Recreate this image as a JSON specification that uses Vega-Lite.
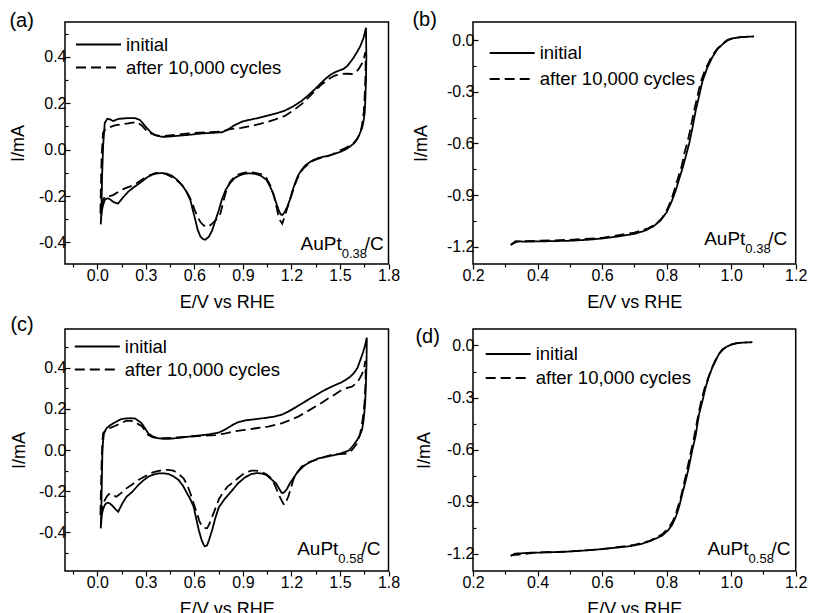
{
  "$schema": "https://vega.github.io/schema/vega-lite/v6.json",
  "background": "white",
  "padding": {"left": 8, "top": 9, "right": 5, "bottom": 5},
  "autosize": {"type": "pad"},
  "config": {
    "font": "Liberation Sans",
    "view": {"stroke": "black", "strokeWidth": 1.5},
    "axis": {"domain": false, "grid": false, "tickColor": "black", "tickWidth": 1.2, "labelColor": "black", "labelFontSize": 16, "labelFont": "Liberation Sans", "titleFont": "Liberation Sans", "titleFontSize": 18, "titleFontWeight": "normal", "titleColor": "black", "labelOverlap": false, "labelFlush": false, "format": ".1f", "labelExpr": "replace(datum.label, '−', '-')"},
    "axisX": {"labelPadding": -2, "titlePadding": 10, "tickSize": 5},
    "axisY": {"labelPadding": 4, "tickSize": -5},
    "legend": {"orient": "none", "title": null, "symbolType": "stroke", "symbolSize": 2025, "symbolStrokeWidth": 2, "symbolStrokeColor": "black", "labelFontSize": 18.5, "labelFont": "Liberation Sans", "labelColor": "black", "labelOffset": 4, "labelLimit": 300},
    "title": {"anchor": "start", "frame": "bounds", "fontSize": 20, "fontWeight": "normal", "font": "Liberation Sans", "color": "black", "baseline": "alphabetic", "offset": 0},
    "text": {"font": "Liberation Sans", "color": "black", "align": "right", "baseline": "alphabetic"}
  },
  "datasets": {
    "a": [
      {"s":"initial","i":1,"E":0.021,"I":-0.322},{"s":"initial","i":2,"E":0.025,"I":-0.26},{"s":"initial","i":3,"E":0.03,"I":-0.1},{"s":"initial","i":4,"E":0.036,"I":0.02},{"s":"initial","i":5,"E":0.046,"I":0.116},{"s":"initial","i":6,"E":0.062,"I":0.133},{"s":"initial","i":7,"E":0.08,"I":0.13},{"s":"initial","i":8,"E":0.098,"I":0.123},{"s":"initial","i":9,"E":0.12,"I":0.13},{"s":"initial","i":10,"E":0.139,"I":0.133},{"s":"initial","i":11,"E":0.19,"I":0.136},{"s":"initial","i":12,"E":0.232,"I":0.136},{"s":"initial","i":13,"E":0.263,"I":0.128},{"s":"initial","i":14,"E":0.285,"I":0.11},{"s":"initial","i":15,"E":0.305,"I":0.094},{"s":"initial","i":16,"E":0.33,"I":0.075},{"s":"initial","i":17,"E":0.357,"I":0.063},{"s":"initial","i":18,"E":0.39,"I":0.056},{"s":"initial","i":19,"E":0.419,"I":0.055},{"s":"initial","i":20,"E":0.47,"I":0.058},{"s":"initial","i":21,"E":0.523,"I":0.061},{"s":"initial","i":22,"E":0.585,"I":0.065},{"s":"initial","i":23,"E":0.647,"I":0.07},{"s":"initial","i":24,"E":0.71,"I":0.072},{"s":"initial","i":25,"E":0.772,"I":0.075},{"s":"initial","i":26,"E":0.81,"I":0.088},{"s":"initial","i":27,"E":0.848,"I":0.105},{"s":"initial","i":28,"E":0.9,"I":0.122},{"s":"initial","i":29,"E":0.952,"I":0.13},{"s":"initial","i":30,"E":1.0,"I":0.137},{"s":"initial","i":31,"E":1.056,"I":0.147},{"s":"initial","i":32,"E":1.11,"I":0.157},{"s":"initial","i":33,"E":1.159,"I":0.168},{"s":"initial","i":34,"E":1.21,"I":0.186},{"s":"initial","i":35,"E":1.263,"I":0.21},{"s":"initial","i":36,"E":1.305,"I":0.235},{"s":"initial","i":37,"E":1.346,"I":0.261},{"s":"initial","i":38,"E":1.38,"I":0.285},{"s":"initial","i":39,"E":1.408,"I":0.304},{"s":"initial","i":40,"E":1.44,"I":0.322},{"s":"initial","i":41,"E":1.471,"I":0.334},{"s":"initial","i":42,"E":1.5,"I":0.342},{"s":"initial","i":43,"E":1.522,"I":0.348},{"s":"initial","i":44,"E":1.545,"I":0.36},{"s":"initial","i":45,"E":1.564,"I":0.377},{"s":"initial","i":46,"E":1.585,"I":0.397},{"s":"initial","i":47,"E":1.605,"I":0.42},{"s":"initial","i":48,"E":1.625,"I":0.445},{"s":"initial","i":49,"E":1.645,"I":0.48},{"s":"initial","i":50,"E":1.661,"I":0.525},
      {"s":"initial","i":51,"E":1.663,"I":0.4},{"s":"initial","i":52,"E":1.661,"I":0.304},{"s":"initial","i":53,"E":1.657,"I":0.22},{"s":"initial","i":54,"E":1.653,"I":0.159},{"s":"initial","i":55,"E":1.645,"I":0.12},{"s":"initial","i":56,"E":1.637,"I":0.094},{"s":"initial","i":57,"E":1.62,"I":0.065},{"s":"initial","i":58,"E":1.605,"I":0.043},{"s":"initial","i":59,"E":1.585,"I":0.026},{"s":"initial","i":60,"E":1.564,"I":0.014},{"s":"initial","i":61,"E":1.54,"I":0.003},{"s":"initial","i":62,"E":1.512,"I":-0.007},{"s":"initial","i":63,"E":1.48,"I":-0.015},{"s":"initial","i":64,"E":1.45,"I":-0.022},{"s":"initial","i":65,"E":1.41,"I":-0.029},{"s":"initial","i":66,"E":1.367,"I":-0.036},{"s":"initial","i":67,"E":1.335,"I":-0.045},{"s":"initial","i":68,"E":1.305,"I":-0.058},{"s":"initial","i":69,"E":1.283,"I":-0.07},{"s":"initial","i":70,"E":1.263,"I":-0.087},{"s":"initial","i":71,"E":1.24,"I":-0.113},{"s":"initial","i":72,"E":1.222,"I":-0.145},{"s":"initial","i":73,"E":1.205,"I":-0.18},{"s":"initial","i":74,"E":1.19,"I":-0.217},{"s":"initial","i":75,"E":1.172,"I":-0.25},{"s":"initial","i":76,"E":1.159,"I":-0.268},{"s":"initial","i":77,"E":1.145,"I":-0.281},{"s":"initial","i":78,"E":1.135,"I":-0.28},{"s":"initial","i":79,"E":1.125,"I":-0.268},{"s":"initial","i":80,"E":1.118,"I":-0.255},{"s":"initial","i":81,"E":1.1,"I":-0.218},{"s":"initial","i":82,"E":1.087,"I":-0.188},{"s":"initial","i":83,"E":1.065,"I":-0.155},{"s":"initial","i":84,"E":1.045,"I":-0.13},{"s":"initial","i":85,"E":1.01,"I":-0.112},{"s":"initial","i":86,"E":0.973,"I":-0.104},{"s":"initial","i":87,"E":0.94,"I":-0.102},{"s":"initial","i":88,"E":0.91,"I":-0.104},{"s":"initial","i":89,"E":0.88,"I":-0.111},{"s":"initial","i":90,"E":0.848,"I":-0.123},{"s":"initial","i":91,"E":0.82,"I":-0.145},{"s":"initial","i":92,"E":0.793,"I":-0.174},{"s":"initial","i":93,"E":0.77,"I":-0.215},{"s":"initial","i":94,"E":0.751,"I":-0.261},{"s":"initial","i":95,"E":0.73,"I":-0.305},{"s":"initial","i":96,"E":0.71,"I":-0.348},{"s":"initial","i":97,"E":0.69,"I":-0.375},{"s":"initial","i":98,"E":0.668,"I":-0.388},{"s":"initial","i":99,"E":0.652,"I":-0.385},{"s":"initial","i":100,"E":0.637,"I":-0.374},{"s":"initial","i":101,"E":0.62,"I":-0.345},{"s":"initial","i":102,"E":0.606,"I":-0.304},{"s":"initial","i":103,"E":0.59,"I":-0.26},{"s":"initial","i":104,"E":0.575,"I":-0.217},{"s":"initial","i":105,"E":0.55,"I":-0.18},{"s":"initial","i":106,"E":0.523,"I":-0.152},{"s":"initial","i":107,"E":0.49,"I":-0.128},{"s":"initial","i":108,"E":0.461,"I":-0.113},{"s":"initial","i":109,"E":0.43,"I":-0.104},{"s":"initial","i":110,"E":0.398,"I":-0.101},{"s":"initial","i":111,"E":0.367,"I":-0.103},{"s":"initial","i":112,"E":0.336,"I":-0.109},{"s":"initial","i":113,"E":0.305,"I":-0.121},{"s":"initial","i":114,"E":0.274,"I":-0.138},{"s":"initial","i":115,"E":0.23,"I":-0.16},{"s":"initial","i":116,"E":0.191,"I":-0.181},{"s":"initial","i":117,"E":0.16,"I":-0.205},{"s":"initial","i":118,"E":0.129,"I":-0.232},{"s":"initial","i":119,"E":0.113,"I":-0.23},{"s":"initial","i":120,"E":0.098,"I":-0.225},{"s":"initial","i":121,"E":0.08,"I":-0.215},{"s":"initial","i":122,"E":0.066,"I":-0.21},{"s":"initial","i":123,"E":0.055,"I":-0.212},{"s":"initial","i":124,"E":0.046,"I":-0.217},{"s":"initial","i":125,"E":0.035,"I":-0.24},{"s":"initial","i":126,"E":0.029,"I":-0.261},{"s":"initial","i":127,"E":0.024,"I":-0.29},{"s":"initial","i":128,"E":0.021,"I":-0.322},
      {"s":"after 10,000 cycles","i":1,"E":0.019,"I":-0.275},{"s":"after 10,000 cycles","i":2,"E":0.022,"I":-0.15},{"s":"after 10,000 cycles","i":3,"E":0.027,"I":-0.02},{"s":"after 10,000 cycles","i":4,"E":0.035,"I":0.072},{"s":"after 10,000 cycles","i":5,"E":0.05,"I":0.088},{"s":"after 10,000 cycles","i":6,"E":0.066,"I":0.094},{"s":"after 10,000 cycles","i":7,"E":0.108,"I":0.104},{"s":"after 10,000 cycles","i":8,"E":0.15,"I":0.109},{"s":"after 10,000 cycles","i":9,"E":0.191,"I":0.113},{"s":"after 10,000 cycles","i":10,"E":0.243,"I":0.119},{"s":"after 10,000 cycles","i":11,"E":0.274,"I":0.104},{"s":"after 10,000 cycles","i":12,"E":0.295,"I":0.088},{"s":"after 10,000 cycles","i":13,"E":0.315,"I":0.075},{"s":"after 10,000 cycles","i":14,"E":0.357,"I":0.062},{"s":"after 10,000 cycles","i":15,"E":0.398,"I":0.058},{"s":"after 10,000 cycles","i":16,"E":0.48,"I":0.064},{"s":"after 10,000 cycles","i":17,"E":0.564,"I":0.07},{"s":"after 10,000 cycles","i":18,"E":0.67,"I":0.075},{"s":"after 10,000 cycles","i":19,"E":0.772,"I":0.078},{"s":"after 10,000 cycles","i":20,"E":0.82,"I":0.088},{"s":"after 10,000 cycles","i":21,"E":0.89,"I":0.094},{"s":"after 10,000 cycles","i":22,"E":0.96,"I":0.103},{"s":"after 10,000 cycles","i":23,"E":1.035,"I":0.116},{"s":"after 10,000 cycles","i":24,"E":1.1,"I":0.13},{"s":"after 10,000 cycles","i":25,"E":1.159,"I":0.145},{"s":"after 10,000 cycles","i":26,"E":1.21,"I":0.168},{"s":"after 10,000 cycles","i":27,"E":1.263,"I":0.196},{"s":"after 10,000 cycles","i":28,"E":1.305,"I":0.224},{"s":"after 10,000 cycles","i":29,"E":1.346,"I":0.254},{"s":"after 10,000 cycles","i":30,"E":1.39,"I":0.283},{"s":"after 10,000 cycles","i":31,"E":1.429,"I":0.304},{"s":"after 10,000 cycles","i":32,"E":1.465,"I":0.318},{"s":"after 10,000 cycles","i":33,"E":1.502,"I":0.326},{"s":"after 10,000 cycles","i":34,"E":1.54,"I":0.327},{"s":"after 10,000 cycles","i":35,"E":1.574,"I":0.326},{"s":"after 10,000 cycles","i":36,"E":1.6,"I":0.335},{"s":"after 10,000 cycles","i":37,"E":1.616,"I":0.348},{"s":"after 10,000 cycles","i":38,"E":1.635,"I":0.37},{"s":"after 10,000 cycles","i":39,"E":1.647,"I":0.391},{"s":"after 10,000 cycles","i":40,"E":1.657,"I":0.42},
      {"s":"after 10,000 cycles","i":41,"E":1.659,"I":0.36},{"s":"after 10,000 cycles","i":42,"E":1.657,"I":0.304},{"s":"after 10,000 cycles","i":43,"E":1.652,"I":0.22},{"s":"after 10,000 cycles","i":44,"E":1.647,"I":0.159},{"s":"after 10,000 cycles","i":45,"E":1.637,"I":0.11},{"s":"after 10,000 cycles","i":46,"E":1.626,"I":0.072},{"s":"after 10,000 cycles","i":47,"E":1.605,"I":0.045},{"s":"after 10,000 cycles","i":48,"E":1.585,"I":0.029},{"s":"after 10,000 cycles","i":49,"E":1.56,"I":0.017},{"s":"after 10,000 cycles","i":50,"E":1.533,"I":0.007},{"s":"after 10,000 cycles","i":51,"E":1.49,"I":-0.008},{"s":"after 10,000 cycles","i":52,"E":1.45,"I":-0.022},{"s":"after 10,000 cycles","i":53,"E":1.41,"I":-0.031},{"s":"after 10,000 cycles","i":54,"E":1.367,"I":-0.039},{"s":"after 10,000 cycles","i":55,"E":1.335,"I":-0.048},{"s":"after 10,000 cycles","i":56,"E":1.305,"I":-0.061},{"s":"after 10,000 cycles","i":57,"E":1.278,"I":-0.078},{"s":"after 10,000 cycles","i":58,"E":1.253,"I":-0.101},{"s":"after 10,000 cycles","i":59,"E":1.23,"I":-0.135},{"s":"after 10,000 cycles","i":60,"E":1.211,"I":-0.174},{"s":"after 10,000 cycles","i":61,"E":1.19,"I":-0.22},{"s":"after 10,000 cycles","i":62,"E":1.17,"I":-0.261},{"s":"after 10,000 cycles","i":63,"E":1.155,"I":-0.295},{"s":"after 10,000 cycles","i":64,"E":1.143,"I":-0.319},{"s":"after 10,000 cycles","i":65,"E":1.13,"I":-0.305},{"s":"after 10,000 cycles","i":66,"E":1.118,"I":-0.28},{"s":"after 10,000 cycles","i":67,"E":1.105,"I":-0.24},{"s":"after 10,000 cycles","i":68,"E":1.093,"I":-0.203},{"s":"after 10,000 cycles","i":69,"E":1.07,"I":-0.155},{"s":"after 10,000 cycles","i":70,"E":1.045,"I":-0.123},{"s":"after 10,000 cycles","i":71,"E":1.015,"I":-0.106},{"s":"after 10,000 cycles","i":72,"E":0.983,"I":-0.101},{"s":"after 10,000 cycles","i":73,"E":0.945,"I":-0.097},{"s":"after 10,000 cycles","i":74,"E":0.91,"I":-0.099},{"s":"after 10,000 cycles","i":75,"E":0.878,"I":-0.105},{"s":"after 10,000 cycles","i":76,"E":0.848,"I":-0.116},{"s":"after 10,000 cycles","i":77,"E":0.82,"I":-0.14},{"s":"after 10,000 cycles","i":78,"E":0.8,"I":-0.17},{"s":"after 10,000 cycles","i":79,"E":0.78,"I":-0.22},{"s":"after 10,000 cycles","i":80,"E":0.761,"I":-0.275},{"s":"after 10,000 cycles","i":81,"E":0.735,"I":-0.302},{"s":"after 10,000 cycles","i":82,"E":0.71,"I":-0.319},{"s":"after 10,000 cycles","i":83,"E":0.69,"I":-0.33},{"s":"after 10,000 cycles","i":84,"E":0.672,"I":-0.333},{"s":"after 10,000 cycles","i":85,"E":0.655,"I":-0.325},{"s":"after 10,000 cycles","i":86,"E":0.637,"I":-0.312},{"s":"after 10,000 cycles","i":87,"E":0.62,"I":-0.29},{"s":"after 10,000 cycles","i":88,"E":0.602,"I":-0.261},{"s":"after 10,000 cycles","i":89,"E":0.585,"I":-0.228},{"s":"after 10,000 cycles","i":90,"E":0.564,"I":-0.196},{"s":"after 10,000 cycles","i":91,"E":0.535,"I":-0.163},{"s":"after 10,000 cycles","i":92,"E":0.502,"I":-0.138},{"s":"after 10,000 cycles","i":93,"E":0.46,"I":-0.118},{"s":"after 10,000 cycles","i":94,"E":0.419,"I":-0.104},{"s":"after 10,000 cycles","i":95,"E":0.39,"I":-0.1},{"s":"after 10,000 cycles","i":96,"E":0.357,"I":-0.101},{"s":"after 10,000 cycles","i":97,"E":0.315,"I":-0.113},{"s":"after 10,000 cycles","i":98,"E":0.274,"I":-0.13},{"s":"after 10,000 cycles","i":99,"E":0.22,"I":-0.155},{"s":"after 10,000 cycles","i":100,"E":0.17,"I":-0.167},{"s":"after 10,000 cycles","i":101,"E":0.13,"I":-0.182},{"s":"after 10,000 cycles","i":102,"E":0.098,"I":-0.196},{"s":"after 10,000 cycles","i":103,"E":0.075,"I":-0.2},{"s":"after 10,000 cycles","i":104,"E":0.056,"I":-0.2},{"s":"after 10,000 cycles","i":105,"E":0.045,"I":-0.205},{"s":"after 10,000 cycles","i":106,"E":0.035,"I":-0.217},{"s":"after 10,000 cycles","i":107,"E":0.026,"I":-0.245},{"s":"after 10,000 cycles","i":108,"E":0.019,"I":-0.275}
    ],
    "c": [
      {"s":"initial","i":1,"E":0.021,"I":-0.382},{"s":"initial","i":2,"E":0.023,"I":-0.33},{"s":"initial","i":3,"E":0.025,"I":-0.276},{"s":"initial","i":4,"E":0.028,"I":-0.15},{"s":"initial","i":5,"E":0.031,"I":-0.016},{"s":"initial","i":6,"E":0.035,"I":0.04},{"s":"initial","i":7,"E":0.041,"I":0.081},{"s":"initial","i":8,"E":0.056,"I":0.106},{"s":"initial","i":9,"E":0.075,"I":0.118},{"s":"initial","i":10,"E":0.098,"I":0.13},{"s":"initial","i":11,"E":0.125,"I":0.142},{"s":"initial","i":12,"E":0.149,"I":0.151},{"s":"initial","i":13,"E":0.18,"I":0.154},{"s":"initial","i":14,"E":0.205,"I":0.155},{"s":"initial","i":15,"E":0.232,"I":0.154},{"s":"initial","i":16,"E":0.255,"I":0.142},{"s":"initial","i":17,"E":0.274,"I":0.13},{"s":"initial","i":18,"E":0.295,"I":0.105},{"s":"initial","i":19,"E":0.315,"I":0.081},{"s":"initial","i":20,"E":0.345,"I":0.065},{"s":"initial","i":21,"E":0.378,"I":0.057},{"s":"initial","i":22,"E":0.41,"I":0.054},{"s":"initial","i":23,"E":0.44,"I":0.054},{"s":"initial","i":24,"E":0.5,"I":0.059},{"s":"initial","i":25,"E":0.564,"I":0.065},{"s":"initial","i":26,"E":0.63,"I":0.071},{"s":"initial","i":27,"E":0.689,"I":0.076},{"s":"initial","i":28,"E":0.751,"I":0.085},{"s":"initial","i":29,"E":0.786,"I":0.098},{"s":"initial","i":30,"E":0.813,"I":0.111},{"s":"initial","i":31,"E":0.84,"I":0.124},{"s":"initial","i":32,"E":0.869,"I":0.135},{"s":"initial","i":33,"E":0.92,"I":0.145},{"s":"initial","i":34,"E":0.973,"I":0.15},{"s":"initial","i":35,"E":1.035,"I":0.156},{"s":"initial","i":36,"E":1.097,"I":0.163},{"s":"initial","i":37,"E":1.14,"I":0.172},{"s":"initial","i":38,"E":1.18,"I":0.187},{"s":"initial","i":39,"E":1.23,"I":0.21},{"s":"initial","i":40,"E":1.284,"I":0.236},{"s":"initial","i":41,"E":1.335,"I":0.26},{"s":"initial","i":42,"E":1.388,"I":0.285},{"s":"initial","i":43,"E":1.43,"I":0.302},{"s":"initial","i":44,"E":1.471,"I":0.317},{"s":"initial","i":45,"E":1.505,"I":0.328},{"s":"initial","i":46,"E":1.533,"I":0.341},{"s":"initial","i":47,"E":1.56,"I":0.355},{"s":"initial","i":48,"E":1.585,"I":0.374},{"s":"initial","i":49,"E":1.608,"I":0.4},{"s":"initial","i":50,"E":1.626,"I":0.439},{"s":"initial","i":51,"E":1.642,"I":0.475},{"s":"initial","i":52,"E":1.653,"I":0.504},{"s":"initial","i":53,"E":1.666,"I":0.548},
      {"s":"initial","i":54,"E":1.664,"I":0.42},{"s":"initial","i":55,"E":1.66,"I":0.309},{"s":"initial","i":56,"E":1.655,"I":0.22},{"s":"initial","i":57,"E":1.646,"I":0.146},{"s":"initial","i":58,"E":1.637,"I":0.1},{"s":"initial","i":59,"E":1.622,"I":0.07},{"s":"initial","i":60,"E":1.606,"I":0.049},{"s":"initial","i":61,"E":1.58,"I":0.02},{"s":"initial","i":62,"E":1.554,"I":-0.003},{"s":"initial","i":63,"E":1.51,"I":-0.015},{"s":"initial","i":64,"E":1.471,"I":-0.024},{"s":"initial","i":65,"E":1.42,"I":-0.032},{"s":"initial","i":66,"E":1.367,"I":-0.041},{"s":"initial","i":67,"E":1.325,"I":-0.055},{"s":"initial","i":68,"E":1.284,"I":-0.073},{"s":"initial","i":69,"E":1.255,"I":-0.094},{"s":"initial","i":70,"E":1.232,"I":-0.114},{"s":"initial","i":71,"E":1.21,"I":-0.14},{"s":"initial","i":72,"E":1.19,"I":-0.163},{"s":"initial","i":73,"E":1.172,"I":-0.19},{"s":"initial","i":74,"E":1.159,"I":-0.203},{"s":"initial","i":75,"E":1.148,"I":-0.21},{"s":"initial","i":76,"E":1.139,"I":-0.208},{"s":"initial","i":77,"E":1.125,"I":-0.19},{"s":"initial","i":78,"E":1.105,"I":-0.163},{"s":"initial","i":79,"E":1.076,"I":-0.143},{"s":"initial","i":80,"E":1.045,"I":-0.122},{"s":"initial","i":81,"E":1.014,"I":-0.114},{"s":"initial","i":82,"E":0.985,"I":-0.113},{"s":"initial","i":83,"E":0.952,"I":-0.117},{"s":"initial","i":84,"E":0.91,"I":-0.135},{"s":"initial","i":85,"E":0.869,"I":-0.163},{"s":"initial","i":86,"E":0.83,"I":-0.2},{"s":"initial","i":87,"E":0.786,"I":-0.24},{"s":"initial","i":88,"E":0.751,"I":-0.28},{"s":"initial","i":89,"E":0.73,"I":-0.33},{"s":"initial","i":90,"E":0.71,"I":-0.39},{"s":"initial","i":91,"E":0.69,"I":-0.44},{"s":"initial","i":92,"E":0.678,"I":-0.465},{"s":"initial","i":93,"E":0.665,"I":-0.47},{"s":"initial","i":94,"E":0.658,"I":-0.463},{"s":"initial","i":95,"E":0.645,"I":-0.44},{"s":"initial","i":96,"E":0.627,"I":-0.39},{"s":"initial","i":97,"E":0.61,"I":-0.33},{"s":"initial","i":98,"E":0.595,"I":-0.276},{"s":"initial","i":99,"E":0.575,"I":-0.24},{"s":"initial","i":100,"E":0.554,"I":-0.211},{"s":"initial","i":101,"E":0.53,"I":-0.175},{"s":"initial","i":102,"E":0.502,"I":-0.146},{"s":"initial","i":103,"E":0.47,"I":-0.128},{"s":"initial","i":104,"E":0.44,"I":-0.117},{"s":"initial","i":105,"E":0.41,"I":-0.114},{"s":"initial","i":106,"E":0.378,"I":-0.114},{"s":"initial","i":107,"E":0.345,"I":-0.12},{"s":"initial","i":108,"E":0.315,"I":-0.13},{"s":"initial","i":109,"E":0.285,"I":-0.148},{"s":"initial","i":110,"E":0.253,"I":-0.171},{"s":"initial","i":111,"E":0.215,"I":-0.205},{"s":"initial","i":112,"E":0.18,"I":-0.228},{"s":"initial","i":113,"E":0.155,"I":-0.26},{"s":"initial","i":114,"E":0.129,"I":-0.301},{"s":"initial","i":115,"E":0.113,"I":-0.29},{"s":"initial","i":116,"E":0.098,"I":-0.276},{"s":"initial","i":117,"E":0.08,"I":-0.262},{"s":"initial","i":118,"E":0.066,"I":-0.257},{"s":"initial","i":119,"E":0.055,"I":-0.26},{"s":"initial","i":120,"E":0.046,"I":-0.268},{"s":"initial","i":121,"E":0.035,"I":-0.29},{"s":"initial","i":122,"E":0.029,"I":-0.309},{"s":"initial","i":123,"E":0.024,"I":-0.35},{"s":"initial","i":124,"E":0.021,"I":-0.382},
      {"s":"after 10,000 cycles","i":1,"E":0.019,"I":-0.317},{"s":"after 10,000 cycles","i":2,"E":0.022,"I":-0.2},{"s":"after 10,000 cycles","i":3,"E":0.025,"I":-0.098},{"s":"after 10,000 cycles","i":4,"E":0.03,"I":0.02},{"s":"after 10,000 cycles","i":5,"E":0.035,"I":0.081},{"s":"after 10,000 cycles","i":6,"E":0.056,"I":0.1},{"s":"after 10,000 cycles","i":7,"E":0.08,"I":0.108},{"s":"after 10,000 cycles","i":8,"E":0.108,"I":0.117},{"s":"after 10,000 cycles","i":9,"E":0.145,"I":0.13},{"s":"after 10,000 cycles","i":10,"E":0.18,"I":0.143},{"s":"after 10,000 cycles","i":11,"E":0.21,"I":0.142},{"s":"after 10,000 cycles","i":12,"E":0.232,"I":0.138},{"s":"after 10,000 cycles","i":13,"E":0.255,"I":0.125},{"s":"after 10,000 cycles","i":14,"E":0.274,"I":0.117},{"s":"after 10,000 cycles","i":15,"E":0.295,"I":0.095},{"s":"after 10,000 cycles","i":16,"E":0.315,"I":0.073},{"s":"after 10,000 cycles","i":17,"E":0.345,"I":0.062},{"s":"after 10,000 cycles","i":18,"E":0.378,"I":0.057},{"s":"after 10,000 cycles","i":19,"E":0.47,"I":0.06},{"s":"after 10,000 cycles","i":20,"E":0.564,"I":0.065},{"s":"after 10,000 cycles","i":21,"E":0.65,"I":0.069},{"s":"after 10,000 cycles","i":22,"E":0.73,"I":0.073},{"s":"after 10,000 cycles","i":23,"E":0.793,"I":0.081},{"s":"after 10,000 cycles","i":24,"E":0.855,"I":0.092},{"s":"after 10,000 cycles","i":25,"E":0.91,"I":0.098},{"s":"after 10,000 cycles","i":26,"E":0.98,"I":0.106},{"s":"after 10,000 cycles","i":27,"E":1.056,"I":0.114},{"s":"after 10,000 cycles","i":28,"E":1.139,"I":0.13},{"s":"after 10,000 cycles","i":29,"E":1.19,"I":0.145},{"s":"after 10,000 cycles","i":30,"E":1.242,"I":0.163},{"s":"after 10,000 cycles","i":31,"E":1.295,"I":0.187},{"s":"after 10,000 cycles","i":32,"E":1.346,"I":0.211},{"s":"after 10,000 cycles","i":33,"E":1.39,"I":0.232},{"s":"after 10,000 cycles","i":34,"E":1.429,"I":0.252},{"s":"after 10,000 cycles","i":35,"E":1.47,"I":0.272},{"s":"after 10,000 cycles","i":36,"E":1.512,"I":0.293},{"s":"after 10,000 cycles","i":37,"E":1.545,"I":0.303},{"s":"after 10,000 cycles","i":38,"E":1.574,"I":0.309},{"s":"after 10,000 cycles","i":39,"E":1.6,"I":0.325},{"s":"after 10,000 cycles","i":40,"E":1.616,"I":0.341},{"s":"after 10,000 cycles","i":41,"E":1.633,"I":0.365},{"s":"after 10,000 cycles","i":42,"E":1.647,"I":0.39},{"s":"after 10,000 cycles","i":43,"E":1.657,"I":0.435},
      {"s":"after 10,000 cycles","i":44,"E":1.659,"I":0.36},{"s":"after 10,000 cycles","i":45,"E":1.657,"I":0.309},{"s":"after 10,000 cycles","i":46,"E":1.652,"I":0.23},{"s":"after 10,000 cycles","i":47,"E":1.64,"I":0.146},{"s":"after 10,000 cycles","i":48,"E":1.625,"I":0.08},{"s":"after 10,000 cycles","i":49,"E":1.606,"I":0.033},{"s":"after 10,000 cycles","i":50,"E":1.58,"I":0.005},{"s":"after 10,000 cycles","i":51,"E":1.554,"I":-0.016},{"s":"after 10,000 cycles","i":52,"E":1.5,"I":-0.02},{"s":"after 10,000 cycles","i":53,"E":1.45,"I":-0.024},{"s":"after 10,000 cycles","i":54,"E":1.4,"I":-0.035},{"s":"after 10,000 cycles","i":55,"E":1.346,"I":-0.049},{"s":"after 10,000 cycles","i":56,"E":1.3,"I":-0.062},{"s":"after 10,000 cycles","i":57,"E":1.263,"I":-0.081},{"s":"after 10,000 cycles","i":58,"E":1.235,"I":-0.11},{"s":"after 10,000 cycles","i":59,"E":1.211,"I":-0.146},{"s":"after 10,000 cycles","i":60,"E":1.195,"I":-0.19},{"s":"after 10,000 cycles","i":61,"E":1.18,"I":-0.228},{"s":"after 10,000 cycles","i":62,"E":1.165,"I":-0.255},{"s":"after 10,000 cycles","i":63,"E":1.155,"I":-0.268},{"s":"after 10,000 cycles","i":64,"E":1.145,"I":-0.255},{"s":"after 10,000 cycles","i":65,"E":1.132,"I":-0.235},{"s":"after 10,000 cycles","i":66,"E":1.118,"I":-0.211},{"s":"after 10,000 cycles","i":67,"E":1.1,"I":-0.175},{"s":"after 10,000 cycles","i":68,"E":1.076,"I":-0.138},{"s":"after 10,000 cycles","i":69,"E":1.045,"I":-0.118},{"s":"after 10,000 cycles","i":70,"E":1.014,"I":-0.106},{"s":"after 10,000 cycles","i":71,"E":0.983,"I":-0.101},{"s":"after 10,000 cycles","i":72,"E":0.952,"I":-0.101},{"s":"after 10,000 cycles","i":73,"E":0.91,"I":-0.112},{"s":"after 10,000 cycles","i":74,"E":0.869,"I":-0.138},{"s":"after 10,000 cycles","i":75,"E":0.835,"I":-0.16},{"s":"after 10,000 cycles","i":76,"E":0.803,"I":-0.18},{"s":"after 10,000 cycles","i":77,"E":0.775,"I":-0.21},{"s":"after 10,000 cycles","i":78,"E":0.751,"I":-0.24},{"s":"after 10,000 cycles","i":79,"E":0.73,"I":-0.285},{"s":"after 10,000 cycles","i":80,"E":0.71,"I":-0.325},{"s":"after 10,000 cycles","i":81,"E":0.69,"I":-0.365},{"s":"after 10,000 cycles","i":82,"E":0.678,"I":-0.382},{"s":"after 10,000 cycles","i":83,"E":0.662,"I":-0.38},{"s":"after 10,000 cycles","i":84,"E":0.647,"I":-0.374},{"s":"after 10,000 cycles","i":85,"E":0.63,"I":-0.345},{"s":"after 10,000 cycles","i":86,"E":0.616,"I":-0.309},{"s":"after 10,000 cycles","i":87,"E":0.595,"I":-0.26},{"s":"after 10,000 cycles","i":88,"E":0.575,"I":-0.211},{"s":"after 10,000 cycles","i":89,"E":0.555,"I":-0.17},{"s":"after 10,000 cycles","i":90,"E":0.533,"I":-0.138},{"s":"after 10,000 cycles","i":91,"E":0.5,"I":-0.115},{"s":"after 10,000 cycles","i":92,"E":0.471,"I":-0.101},{"s":"after 10,000 cycles","i":93,"E":0.435,"I":-0.097},{"s":"after 10,000 cycles","i":94,"E":0.398,"I":-0.098},{"s":"after 10,000 cycles","i":95,"E":0.36,"I":-0.105},{"s":"after 10,000 cycles","i":96,"E":0.326,"I":-0.114},{"s":"after 10,000 cycles","i":97,"E":0.29,"I":-0.13},{"s":"after 10,000 cycles","i":98,"E":0.253,"I":-0.146},{"s":"after 10,000 cycles","i":99,"E":0.215,"I":-0.168},{"s":"after 10,000 cycles","i":100,"E":0.18,"I":-0.187},{"s":"after 10,000 cycles","i":101,"E":0.15,"I":-0.208},{"s":"after 10,000 cycles","i":102,"E":0.118,"I":-0.228},{"s":"after 10,000 cycles","i":103,"E":0.1,"I":-0.222},{"s":"after 10,000 cycles","i":104,"E":0.077,"I":-0.211},{"s":"after 10,000 cycles","i":105,"E":0.06,"I":-0.225},{"s":"after 10,000 cycles","i":106,"E":0.046,"I":-0.244},{"s":"after 10,000 cycles","i":107,"E":0.035,"I":-0.27},{"s":"after 10,000 cycles","i":108,"E":0.025,"I":-0.309},{"s":"after 10,000 cycles","i":109,"E":0.019,"I":-0.317}
    ],
    "b": [
      {"s":"initial","i":1,"E":0.317,"I":-1.188},{"s":"initial","i":2,"E":0.332,"I":-1.168},{"s":"initial","i":3,"E":0.36,"I":-1.17},{"s":"initial","i":4,"E":0.4,"I":-1.169},{"s":"initial","i":5,"E":0.45,"I":-1.167},{"s":"initial","i":6,"E":0.5,"I":-1.165},{"s":"initial","i":7,"E":0.55,"I":-1.16},{"s":"initial","i":8,"E":0.6,"I":-1.152},{"s":"initial","i":9,"E":0.65,"I":-1.14},{"s":"initial","i":10,"E":0.7,"I":-1.125},{"s":"initial","i":11,"E":0.735,"I":-1.105},{"s":"initial","i":12,"E":0.76,"I":-1.08},{"s":"initial","i":13,"E":0.78,"I":-1.05},{"s":"initial","i":14,"E":0.8,"I":-1.0},{"s":"initial","i":15,"E":0.815,"I":-0.94},{"s":"initial","i":16,"E":0.828,"I":-0.875},{"s":"initial","i":17,"E":0.84,"I":-0.8},{"s":"initial","i":18,"E":0.85,"I":-0.74},{"s":"initial","i":19,"E":0.86,"I":-0.67},{"s":"initial","i":20,"E":0.87,"I":-0.6},{"s":"initial","i":21,"E":0.88,"I":-0.51},{"s":"initial","i":22,"E":0.89,"I":-0.41},{"s":"initial","i":23,"E":0.9,"I":-0.33},{"s":"initial","i":24,"E":0.911,"I":-0.24},{"s":"initial","i":25,"E":0.925,"I":-0.165},{"s":"initial","i":26,"E":0.942,"I":-0.098},{"s":"initial","i":27,"E":0.958,"I":-0.052},{"s":"initial","i":28,"E":0.973,"I":-0.025},{"s":"initial","i":29,"E":0.99,"I":0.0},{"s":"initial","i":30,"E":1.004,"I":0.01},{"s":"initial","i":31,"E":1.025,"I":0.016},{"s":"initial","i":32,"E":1.045,"I":0.019},{"s":"initial","i":33,"E":1.071,"I":0.021},
      {"s":"after 10,000 cycles","i":1,"E":0.317,"I":-1.19},{"s":"after 10,000 cycles","i":2,"E":0.335,"I":-1.17},{"s":"after 10,000 cycles","i":3,"E":0.4,"I":-1.165},{"s":"after 10,000 cycles","i":4,"E":0.5,"I":-1.16},{"s":"after 10,000 cycles","i":5,"E":0.6,"I":-1.148},{"s":"after 10,000 cycles","i":6,"E":0.7,"I":-1.118},{"s":"after 10,000 cycles","i":7,"E":0.74,"I":-1.095},{"s":"after 10,000 cycles","i":8,"E":0.765,"I":-1.07},{"s":"after 10,000 cycles","i":9,"E":0.785,"I":-1.035},{"s":"after 10,000 cycles","i":10,"E":0.8,"I":-0.99},{"s":"after 10,000 cycles","i":11,"E":0.815,"I":-0.925},{"s":"after 10,000 cycles","i":12,"E":0.825,"I":-0.865},{"s":"after 10,000 cycles","i":13,"E":0.837,"I":-0.79},{"s":"after 10,000 cycles","i":14,"E":0.847,"I":-0.73},{"s":"after 10,000 cycles","i":15,"E":0.856,"I":-0.65},{"s":"after 10,000 cycles","i":16,"E":0.865,"I":-0.59},{"s":"after 10,000 cycles","i":17,"E":0.875,"I":-0.505},{"s":"after 10,000 cycles","i":18,"E":0.885,"I":-0.41},{"s":"after 10,000 cycles","i":19,"E":0.895,"I":-0.33},{"s":"after 10,000 cycles","i":20,"E":0.906,"I":-0.24},{"s":"after 10,000 cycles","i":21,"E":0.92,"I":-0.17},{"s":"after 10,000 cycles","i":22,"E":0.938,"I":-0.1},{"s":"after 10,000 cycles","i":23,"E":0.955,"I":-0.055},{"s":"after 10,000 cycles","i":24,"E":0.97,"I":-0.025},{"s":"after 10,000 cycles","i":25,"E":0.988,"I":0.0},{"s":"after 10,000 cycles","i":26,"E":1.004,"I":0.01},{"s":"after 10,000 cycles","i":27,"E":1.03,"I":0.017},{"s":"after 10,000 cycles","i":28,"E":1.06,"I":0.02}
    ],
    "d": [
      {"s":"initial","i":1,"E":0.317,"I":-1.214},{"s":"initial","i":2,"E":0.33,"I":-1.2},{"s":"initial","i":3,"E":0.374,"I":-1.195},{"s":"initial","i":4,"E":0.42,"I":-1.193},{"s":"initial","i":5,"E":0.477,"I":-1.19},{"s":"initial","i":6,"E":0.53,"I":-1.184},{"s":"initial","i":7,"E":0.58,"I":-1.177},{"s":"initial","i":8,"E":0.63,"I":-1.168},{"s":"initial","i":9,"E":0.683,"I":-1.158},{"s":"initial","i":10,"E":0.72,"I":-1.145},{"s":"initial","i":11,"E":0.745,"I":-1.13},{"s":"initial","i":12,"E":0.77,"I":-1.11},{"s":"initial","i":13,"E":0.787,"I":-1.095},{"s":"initial","i":14,"E":0.805,"I":-1.065},{"s":"initial","i":15,"E":0.818,"I":-1.031},{"s":"initial","i":16,"E":0.83,"I":-0.98},{"s":"initial","i":17,"E":0.838,"I":-0.934},{"s":"initial","i":18,"E":0.848,"I":-0.86},{"s":"initial","i":19,"E":0.859,"I":-0.78},{"s":"initial","i":20,"E":0.869,"I":-0.7},{"s":"initial","i":21,"E":0.88,"I":-0.6},{"s":"initial","i":22,"E":0.89,"I":-0.52},{"s":"initial","i":23,"E":0.9,"I":-0.4},{"s":"initial","i":24,"E":0.911,"I":-0.32},{"s":"initial","i":25,"E":0.921,"I":-0.241},{"s":"initial","i":26,"E":0.931,"I":-0.18},{"s":"initial","i":27,"E":0.942,"I":-0.125},{"s":"initial","i":28,"E":0.952,"I":-0.087},{"s":"initial","i":29,"E":0.962,"I":-0.05},{"s":"initial","i":30,"E":0.972,"I":-0.025},{"s":"initial","i":31,"E":0.983,"I":-0.01},{"s":"initial","i":32,"E":1.0,"I":0.005},{"s":"initial","i":33,"E":1.014,"I":0.013},{"s":"initial","i":34,"E":1.04,"I":0.017},{"s":"initial","i":35,"E":1.066,"I":0.019},
      {"s":"after 10,000 cycles","i":1,"E":0.317,"I":-1.21},{"s":"after 10,000 cycles","i":2,"E":0.4,"I":-1.193},{"s":"after 10,000 cycles","i":3,"E":0.5,"I":-1.187},{"s":"after 10,000 cycles","i":4,"E":0.6,"I":-1.174},{"s":"after 10,000 cycles","i":5,"E":0.7,"I":-1.15},{"s":"after 10,000 cycles","i":6,"E":0.75,"I":-1.125},{"s":"after 10,000 cycles","i":7,"E":0.785,"I":-1.09},{"s":"after 10,000 cycles","i":8,"E":0.805,"I":-1.055},{"s":"after 10,000 cycles","i":9,"E":0.82,"I":-1.01},{"s":"after 10,000 cycles","i":10,"E":0.83,"I":-0.96},{"s":"after 10,000 cycles","i":11,"E":0.842,"I":-0.89},{"s":"after 10,000 cycles","i":12,"E":0.852,"I":-0.81},{"s":"after 10,000 cycles","i":13,"E":0.862,"I":-0.73},{"s":"after 10,000 cycles","i":14,"E":0.873,"I":-0.63},{"s":"after 10,000 cycles","i":15,"E":0.884,"I":-0.54},{"s":"after 10,000 cycles","i":16,"E":0.895,"I":-0.43},{"s":"after 10,000 cycles","i":17,"E":0.906,"I":-0.33},{"s":"after 10,000 cycles","i":18,"E":0.917,"I":-0.25},{"s":"after 10,000 cycles","i":19,"E":0.928,"I":-0.19},{"s":"after 10,000 cycles","i":20,"E":0.94,"I":-0.13},{"s":"after 10,000 cycles","i":21,"E":0.95,"I":-0.09},{"s":"after 10,000 cycles","i":22,"E":0.96,"I":-0.052},{"s":"after 10,000 cycles","i":23,"E":0.975,"I":-0.022},{"s":"after 10,000 cycles","i":24,"E":0.995,"I":0.003},{"s":"after 10,000 cycles","i":25,"E":1.02,"I":0.014},{"s":"after 10,000 cycles","i":26,"E":1.05,"I":0.018}
    ]
  },
  "columns": 2,
  "bounds": "flush",
  "spacing": {"row": 65, "column": 84},
  "resolve": {"scale": {"x": "independent", "y": "independent", "strokeDash": "independent"}, "legend": {"strokeDash": "independent"}},
  "concat": [
    {
      "width": 323.5, "height": 242,
      "title": {"text": "(a)", "dy": 13},
      "resolve": {"axis": {"x": "independent", "y": "independent"}},
      "layer": [
        {
          "data": {"name": "a"},
          "mark": {"type": "line", "strokeWidth": 1.8, "color": "black"},
          "encoding": {
            "x": {"field": "E", "type": "quantitative", "title": "E/V vs RHE", "scale": {"domain": [-0.2, 1.8], "nice": false, "zero": false},
              "axis": {"orient": "bottom", "values": [0, 0.3, 0.6, 0.9, 1.2, 1.5, 1.8]}},
            "y": {"field": "I", "type": "quantitative", "title": "I/mA", "scale": {"domain": [-0.493, 0.55], "nice": false, "zero": false},
              "axis": {"orient": "left", "titlePadding": 11, "values": [-0.4, -0.2, 0, 0.2, 0.4]}},
            "order": {"field": "i", "type": "quantitative"},
            "strokeDash": {"field": "s", "type": "nominal", "scale": {"domain": ["initial", "after 10,000 cycles"], "range": [[1, 0], [10, 5]]},
              "legend": {"legendX": 10, "legendY": 12, "clipHeight": 21, "rowPadding": 2}}
          }
        },
        {"data": {"values": [{}]}, "mark": {"type": "text", "text": "AuPt", "fontSize": 19},
          "encoding": {"x": {"datum": 1.511, "axis": {"orient": "bottom", "values": [-0.15, 0.15, 0.45, 0.75, 1.05, 1.35, 1.65], "labels": false, "title": null, "tickSize": 3}},
                       "y": {"datum": -0.432, "axis": {"orient": "left", "values": [-0.3, -0.1, 0.1, 0.3, 0.5], "labels": false, "title": null, "tickSize": -3}}}},
        {"data": {"values": [{}]}, "mark": {"type": "text", "text": "0.38", "fontSize": 13, "align": "left"}, "encoding": {"x": {"datum": 1.511, "axis": null}, "y": {"datum": -0.465, "axis": null}}},
        {"data": {"values": [{}]}, "mark": {"type": "text", "text": "/C", "fontSize": 19}, "encoding": {"x": {"datum": 1.771, "axis": null}, "y": {"datum": -0.432, "axis": null}}}
      ]
    },
    {
      "width": 322.7, "height": 242,
      "title": {"text": "(b)", "dy": 12},
      "resolve": {"axis": {"x": "independent", "y": "independent"}},
      "layer": [
        {
          "data": {"name": "b"},
          "mark": {"type": "line", "strokeWidth": 1.8, "color": "black"},
          "encoding": {
            "x": {"field": "E", "type": "quantitative", "title": "E/V vs RHE", "scale": {"domain": [0.2, 1.2], "nice": false, "zero": false},
              "axis": {"orient": "bottom", "values": [0.2, 0.4, 0.6, 0.8, 1.0, 1.2]}},
            "y": {"field": "I", "type": "quantitative", "title": "I/mA", "scale": {"domain": [-1.3, 0.105], "nice": false, "zero": false},
              "axis": {"orient": "left", "titlePadding": 16, "values": [-1.2, -0.9, -0.6, -0.3, 0]}},
            "order": {"field": "i", "type": "quantitative"},
            "strokeDash": {"field": "s", "type": "nominal", "scale": {"domain": ["initial", "after 10,000 cycles"], "range": [[1, 0], [10, 5]]},
              "legend": {"legendX": 15.7, "legendY": 20, "clipHeight": 22, "rowPadding": 4}}
          }
        },
        {"data": {"values": [{}]}, "mark": {"type": "text", "text": "AuPt", "fontSize": 19},
          "encoding": {"x": {"datum": 1.044, "axis": {"orient": "bottom", "values": [0.3, 0.5, 0.7, 0.9, 1.1], "labels": false, "title": null, "tickSize": 3}},
                       "y": {"datum": -1.187, "axis": {"orient": "left", "values": [-1.05, -0.75, -0.45, -0.15], "labels": false, "title": null, "tickSize": -3}}}},
        {"data": {"values": [{}]}, "mark": {"type": "text", "text": "0.38", "fontSize": 13, "align": "left"}, "encoding": {"x": {"datum": 1.044, "axis": null}, "y": {"datum": -1.235, "axis": null}}},
        {"data": {"values": [{}]}, "mark": {"type": "text", "text": "/C", "fontSize": 19}, "encoding": {"x": {"datum": 1.174, "axis": null}, "y": {"datum": -1.187, "axis": null}}}
      ]
    },
    {
      "width": 323.5, "height": 242,
      "title": {"text": "(c)", "dy": 10},
      "resolve": {"axis": {"x": "independent", "y": "independent"}},
      "layer": [
        {
          "data": {"name": "c"},
          "mark": {"type": "line", "strokeWidth": 1.8, "color": "black"},
          "encoding": {
            "x": {"field": "E", "type": "quantitative", "title": "E/V vs RHE", "scale": {"domain": [-0.2, 1.8], "nice": false, "zero": false},
              "axis": {"orient": "bottom", "values": [0, 0.3, 0.6, 0.9, 1.2, 1.5, 1.8]}},
            "y": {"field": "I", "type": "quantitative", "title": "I/mA", "scale": {"domain": [-0.59, 0.59], "nice": false, "zero": false},
              "axis": {"orient": "left", "titlePadding": 10, "values": [-0.4, -0.2, 0, 0.2, 0.4]}},
            "order": {"field": "i", "type": "quantitative"},
            "strokeDash": {"field": "s", "type": "nominal", "scale": {"domain": ["initial", "after 10,000 cycles"], "range": [[1, 0], [10, 5]]},
              "legend": {"legendX": 8.8, "legendY": 7, "clipHeight": 21, "rowPadding": 2}}
          }
        },
        {"data": {"values": [{}]}, "mark": {"type": "text", "text": "AuPt", "fontSize": 19},
          "encoding": {"x": {"datum": 1.49, "axis": {"orient": "bottom", "values": [-0.15, 0.15, 0.45, 0.75, 1.05, 1.35, 1.65], "labels": false, "title": null, "tickSize": 3}},
                       "y": {"datum": -0.511, "axis": {"orient": "left", "values": [-0.5, -0.3, -0.1, 0.1, 0.3, 0.5], "labels": false, "title": null, "tickSize": -3}}}},
        {"data": {"values": [{}]}, "mark": {"type": "text", "text": "0.58", "fontSize": 13, "align": "left"}, "encoding": {"x": {"datum": 1.49, "axis": null}, "y": {"datum": -0.55, "axis": null}}},
        {"data": {"values": [{}]}, "mark": {"type": "text", "text": "/C", "fontSize": 19}, "encoding": {"x": {"datum": 1.75, "axis": null}, "y": {"datum": -0.511, "axis": null}}}
      ]
    },
    {
      "width": 322.7, "height": 242,
      "title": {"text": "(d)", "dy": 22},
      "resolve": {"axis": {"x": "independent", "y": "independent"}},
      "layer": [
        {
          "data": {"name": "d"},
          "mark": {"type": "line", "strokeWidth": 1.8, "color": "black"},
          "encoding": {
            "x": {"field": "E", "type": "quantitative", "title": "E/V vs RHE", "scale": {"domain": [0.2, 1.2], "nice": false, "zero": false},
              "axis": {"orient": "bottom", "values": [0.2, 0.4, 0.6, 0.8, 1.0, 1.2]}},
            "y": {"field": "I", "type": "quantitative", "title": "I/mA", "scale": {"domain": [-1.3, 0.095], "nice": false, "zero": false},
              "axis": {"orient": "left", "titlePadding": 13, "values": [-1.2, -0.9, -0.6, -0.3, 0]}},
            "order": {"field": "i", "type": "quantitative"},
            "strokeDash": {"field": "s", "type": "nominal", "scale": {"domain": ["initial", "after 10,000 cycles"], "range": [[1, 0], [10, 5]]},
              "legend": {"legendX": 11.7, "legendY": 14, "clipHeight": 22, "rowPadding": 2}}
          }
        },
        {"data": {"values": [{}]}, "mark": {"type": "text", "text": "AuPt", "fontSize": 19},
          "encoding": {"x": {"datum": 1.054, "axis": {"orient": "bottom", "values": [0.3, 0.5, 0.7, 0.9, 1.1], "labels": false, "title": null, "tickSize": 3}},
                       "y": {"datum": -1.206, "axis": {"orient": "left", "values": [-1.05, -0.75, -0.45, -0.15], "labels": false, "title": null, "tickSize": -3}}}},
        {"data": {"values": [{}]}, "mark": {"type": "text", "text": "0.58", "fontSize": 13, "align": "left"}, "encoding": {"x": {"datum": 1.054, "axis": null}, "y": {"datum": -1.253, "axis": null}}},
        {"data": {"values": [{}]}, "mark": {"type": "text", "text": "/C", "fontSize": 19}, "encoding": {"x": {"datum": 1.184, "axis": null}, "y": {"datum": -1.206, "axis": null}}}
      ]
    }
  ]
}
